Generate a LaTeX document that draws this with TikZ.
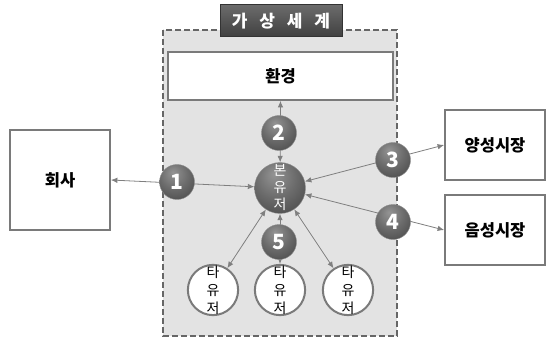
\documentclass[tikz,border=0pt]{standalone}
\usepackage{fontspec}
\setmainfont{Noto Sans CJK KR}
\usetikzlibrary{arrows.meta,shadings}
\definecolor{edgegray}{HTML}{7F7F7F}
\definecolor{regionfill}{HTML}{E3E3E3}
\definecolor{boxline}{HTML}{7A7A7A}
\pgfdeclareradialshading{darkball}{\pgfpoint{-6bp}{14bp}}{color(0bp)=(black!42); color(20bp)=(black!58); color(40bp)=(black!72); color(58bp)=(black!84); color(75bp)=(black!88)}
\tikzset{
  whitebox/.style={draw=boxline, line width=1.8pt, fill=white, font=\bfseries\fontsize{16.5}{18}\selectfont},
  numball/.style={circle, minimum size=35pt, inner sep=0pt, shading=darkball, draw=black!45, line width=0.4pt, text=white, font=\bfseries\fontsize{21}{22}\selectfont},
  mainball/.style={circle, minimum size=51pt, inner sep=0pt, shading=darkball, draw=black!45, line width=0.4pt, text=white, align=center, font=\fontsize{14}{17}\selectfont},
  otherball/.style={circle, minimum size=48pt, inner sep=0pt, draw=boxline, line width=2pt, fill=white, align=center, font=\fontsize{14}{18}\selectfont},
  link/.style={draw=edgegray, line width=0.8pt, {Latex[length=6.5pt,width=5.5pt]}-{Latex[length=6.5pt,width=5.5pt]}}
}
\begin{document}
\begin{tikzpicture}[x=1pt,y=-1pt]
\useasboundingbox (0,0) rectangle (546,339);
% region
\draw[draw=black!60, fill=regionfill, line width=1.8pt, dash pattern=on 6pt off 3pt] (163,30) rectangle (397,336);
% title
\node[draw=black!80, line width=1pt, top color=black!58, bottom color=black!75, text=white, minimum width=122pt, minimum height=32pt, inner sep=0pt, font=\bfseries\fontsize{17}{18}\selectfont] (title) at (281,21) {가\hspace{0.7em}상\hspace{0.7em}세\hspace{0.7em}계};
% boxes
\node[whitebox, minimum width=225pt, minimum height=48pt] (env) at (280.5,76) {환경};
\node[whitebox, minimum width=100pt, minimum height=100pt] (company) at (60,180) {회사};
\node[whitebox, minimum width=100pt, minimum height=70pt] (pos) at (495,145) {양성시장};
\node[whitebox, minimum width=100pt, minimum height=70pt] (neg) at (495,230) {음성시장};
% users
\node[mainball] (me) at (280,188) {본\\유\\저};
\node[otherball] (o1) at (213,290) {타\\유\\저};
\node[otherball] (o2) at (280,290) {타\\유\\저};
\node[otherball] (o3) at (348,290) {타\\유\\저};
% links
\draw[link] (company.east) -- (me);
\draw[link] (env.south) -- (me);
\draw[link] (me) -- (pos.west);
\draw[link] (me) -- (neg.west);
\draw[link] (me) -- (o1);
\draw[link] (me) -- (o2);
\draw[link] (me) -- (o3);
% numbers
\node[numball] (n1) at (177,182) {1};
\node[numball] (n2) at (279,133) {2};
\node[numball] (n3) at (393,160) {3};
\node[numball] (n4) at (393,222) {4};
\node[numball] (n5) at (279,242) {5};
\end{tikzpicture}
\end{document}
